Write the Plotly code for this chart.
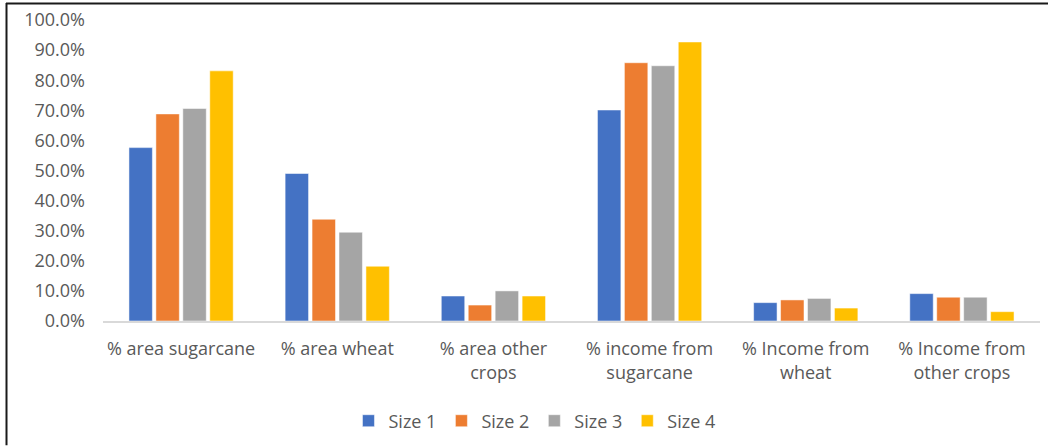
import plotly.graph_objects as go

categories = ["% area sugarcane", "% area wheat", "% area other<br>crops",
              "% income from<br>sugarcane", "% Income from<br>wheat", "% Income from<br>other crops"]
series_names = ["Size 1", "Size 2", "Size 3", "Size 4"]
size1 = [0.576, 0.490, 0.083, 0.701, 0.061, 0.091]
size2 = [0.688, 0.338, 0.053, 0.858, 0.070, 0.079]
size3 = [0.706, 0.295, 0.100, 0.848, 0.075, 0.079]
size4 = [0.831, 0.182, 0.083, 0.927, 0.043, 0.031]
colors = ["#4472C4", "#ED7D31", "#A5A5A5", "#FFC000"]
y_ticks = [i / 10 for i in range(11)]

W, H = 1048, 446
L, R, T, B = 103, 8, 20, 124.5

fig = go.Figure()
for name, vals, c in zip(series_names, [size1, size2, size3, size4], colors):
    fig.add_trace(go.Bar(x=categories, y=vals, name=name, marker_color=c,
                         marker_line=dict(color="rgba(255,255,255,0.5)", width=1)))

font_family = "Open Sans, Lato, sans-serif"
fig.update_layout(
    width=W, height=H,
    margin=dict(l=L, r=R, t=T, b=B, pad=0, autoexpand=False),
    paper_bgcolor="white", plot_bgcolor="white",
    barmode="group", bargap=0.31, bargroupgap=0.13,
    font=dict(family=font_family, size=18, color="#595959"),
    showlegend=True,
    legend=dict(orientation="h", xref="container", yref="container",
                x=0.51, xanchor="center", y=0.056, yanchor="middle",
                font=dict(size=18, color="#595959"), itemwidth=30,
                traceorder="normal"),
    xaxis=dict(showgrid=False, showline=True, linecolor="#D9D9D9", linewidth=1.5,
               ticks="", ticklabelstandoff=11, tickfont=dict(size=18, color="#595959")),
    yaxis=dict(range=[0, 1.0], tickvals=y_ticks, tickformat=".1%", showgrid=False,
               zeroline=False, showline=False, ticks="", ticklabelstandoff=17,
               tickfont=dict(size=18, color="#595959")),
)

# outer frame (top and left edges of the original screenshot frame)
def px_to_paper_x(px):
    return (px - L) / (W - L - R)

def px_to_paper_y(py):
    return (H - B - py) / (H - T - B)

fig.add_shape(type="line", xref="paper", yref="paper",
              x0=px_to_paper_x(6), x1=px_to_paper_x(1048), y0=px_to_paper_y(3.5), y1=px_to_paper_y(3.5),
              line=dict(color="#1a1a1a", width=2))
fig.add_shape(type="line", xref="paper", yref="paper",
              x0=px_to_paper_x(6.5), x1=px_to_paper_x(6.5), y0=px_to_paper_y(3), y1=px_to_paper_y(446),
              line=dict(color="#1a1a1a", width=2))

fig.write_html("out.html", config={"displayModeBar": False},
               post_script="document.body.style.margin='0px';document.body.style.overflow='hidden';")
